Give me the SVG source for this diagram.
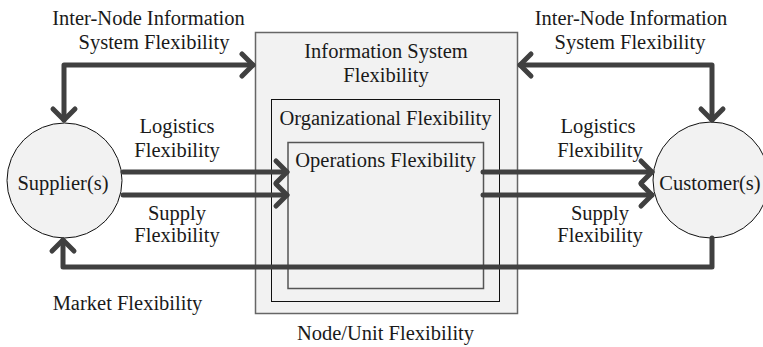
<svg xmlns="http://www.w3.org/2000/svg" width="763" height="347" viewBox="0 0 763 347">
<style>
text{font-family:"Liberation Serif","Times New Roman",serif;font-size:20.5px;fill:#1a1a1a;text-anchor:middle}
.node{fill:#f2f2f2}
.conn{fill:none;stroke:#404040;stroke-width:5;stroke-linecap:round;stroke-linejoin:round}
</style>
<defs>
<marker id="chev" markerUnits="userSpaceOnUse" viewBox="-16 -16 20 32" markerWidth="20" markerHeight="32" refX="0" refY="0" orient="auto-start-reverse">
<path d="M-11,-11 L0,0 L-11,11" fill="none" stroke="#404040" stroke-width="5" stroke-linecap="round" stroke-linejoin="round"/>
</marker>
</defs>
<rect width="763" height="347" fill="#fff"/>
<g id="node-unit">
<rect class="node" x="255.5" y="32.5" width="262" height="281" stroke="#666" stroke-width="1.5"/>
<text x="386" y="58">Information System</text>
<text x="386" y="82">Flexibility</text>
</g>
<g id="organizational">
<rect class="node" x="271.5" y="99.5" width="228" height="202" stroke="#111" stroke-width="1"/>
<text x="385.5" y="125">Organizational Flexibility</text>
</g>
<g id="operations">
<rect class="node" x="288" y="142.5" width="195.5" height="146" stroke="#555" stroke-width="1.5"/>
<text x="385.5" y="167">Operations Flexibility</text>
</g>
<g id="supplier">
<circle class="node" cx="64.5" cy="180.5" r="57.5" stroke="#111" stroke-width="1"/>
<text x="63" y="190">Supplier(s)</text>
</g>
<g id="customer">
<circle class="node" cx="711" cy="180" r="58" stroke="#111" stroke-width="1"/>
<text x="710" y="190">Customer(s)</text>
</g>
<g id="connectors">
<path class="conn" d="M64,120 L64,65 L253,65" marker-start="url(#chev)" marker-end="url(#chev)"/>
<path class="conn" d="M520,65 L712,65 L712,120" marker-start="url(#chev)" marker-end="url(#chev)"/>
<path class="conn" d="M123,172 L287,172" marker-end="url(#chev)"/>
<path class="conn" d="M123,195 L287,195" marker-end="url(#chev)"/>
<path class="conn" d="M483,172 L652,172" marker-end="url(#chev)"/>
<path class="conn" d="M483,195 L652,195" marker-end="url(#chev)"/>
<path class="conn" d="M712,238 L712,267 L63,267 L63,240" marker-end="url(#chev)"/>
</g>
<g id="labels">
<text x="148.5" y="25">Inter-Node Information</text>
<text x="154" y="49">System Flexibility</text>
<text x="631" y="25">Inter-Node Information</text>
<text x="630" y="49">System Flexibility</text>
<text x="177" y="133">Logistics</text>
<text x="177" y="157">Flexibility</text>
<text x="177" y="220">Supply</text>
<text x="177" y="242">Flexibility</text>
<text x="598" y="133">Logistics</text>
<text x="600" y="157">Flexibility</text>
<text x="600" y="220">Supply</text>
<text x="600" y="242">Flexibility</text>
<text x="127.5" y="310">Market Flexibility</text>
<text x="385.5" y="340">Node/Unit Flexibility</text>
</g>
</svg>
